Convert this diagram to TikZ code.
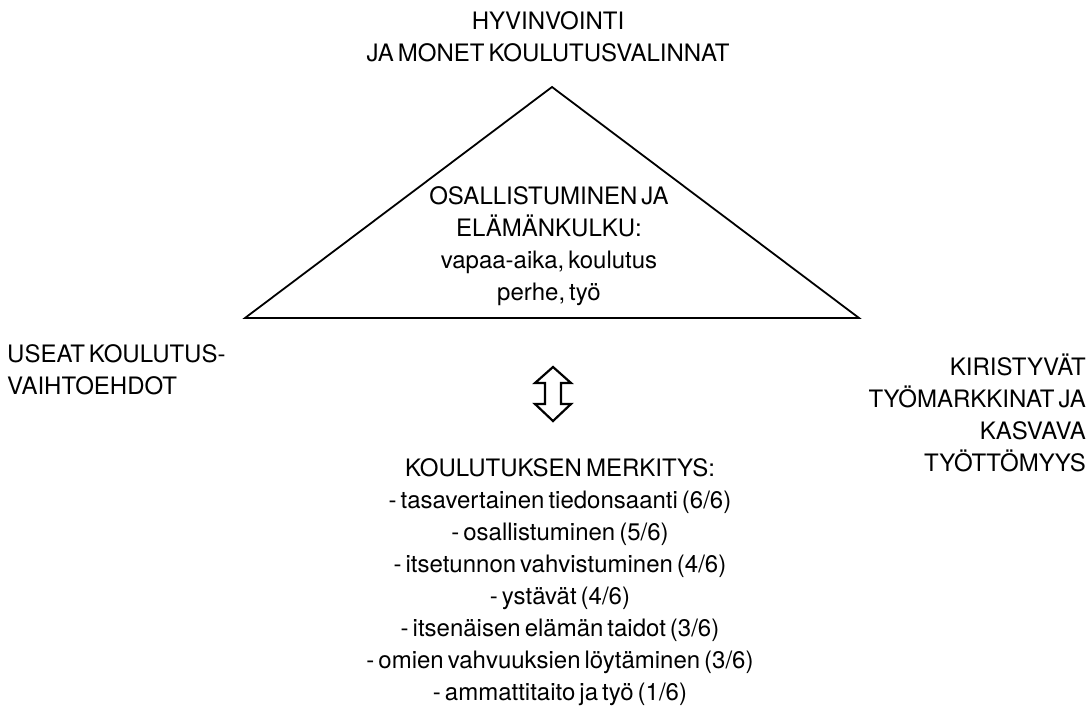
\documentclass[tikz,border=0pt]{standalone}
\usepackage{fontspec}
\setmainfont[WordSpace=0.6]{TeX Gyre Heros}
\begin{document}
\begin{tikzpicture}[x=1pt, y=-1pt,
    lbl/.style={inner sep=0pt, font=\fontsize{24}{32}\selectfont},
    arr/.style={draw, line width=2.2pt, line join=miter}]
    \useasboundingbox (0,0) rectangle (1091,714);

    % Triangle and its content
    \coordinate (apex) at (552,87);
    \coordinate (left) at (245,318);
    \coordinate (right) at (859,318);
    \draw[line width=1.8pt, line join=miter] (apex) -- (left) -- (right) -- cycle;
    \node[lbl, align=center] (core) at (549,246) {OSALLISTUMINEN JA\\ELÄMÄNKULKU:\\vapaa-aika, koulutus\\perhe, työ};

    % Corner labels
    \node[lbl, align=center] (top) at (548,37) {HYVINVOINTI\\JA MONET KOULUTUSVALINNAT};
    \node[lbl, align=left, anchor=west] (west) at (7,370) {USEAT KOULUTUS-\\VAIHTOEHDOT};
    \node[lbl, align=right, anchor=east] (east) at (1086,413) {KIRISTYVÄT\\TYÖMARKKINAT JA\\KASVAVA\\TYÖTTÖMYYS};

    % Two-way arrow and the list below
    \coordinate (link) at (553,394);
    \draw[arr] (link) ++(0,-27) -- ++(18,16) -- ++(-10,0) -- ++(0,21) -- ++(10,0)
        -- ++(-18,17) -- ++(-18,-17) -- ++(10,0) -- ++(0,-21) -- ++(-10,0) -- cycle;
    \node[lbl, align=center] (list) at (560,582) {KOULUTUKSEN MERKITYS:\\
        - tasavertainen tiedonsaanti (6/6)\\
        - osallistuminen (5/6)\\
        - itsetunnon vahvistuminen (4/6)\\
        - ystävät (4/6)\\
        - itsenäisen elämän taidot (3/6)\\
        - omien vahvuuksien löytäminen (3/6)\\
        - ammattitaito ja työ (1/6)};
\end{tikzpicture}
\end{document}
